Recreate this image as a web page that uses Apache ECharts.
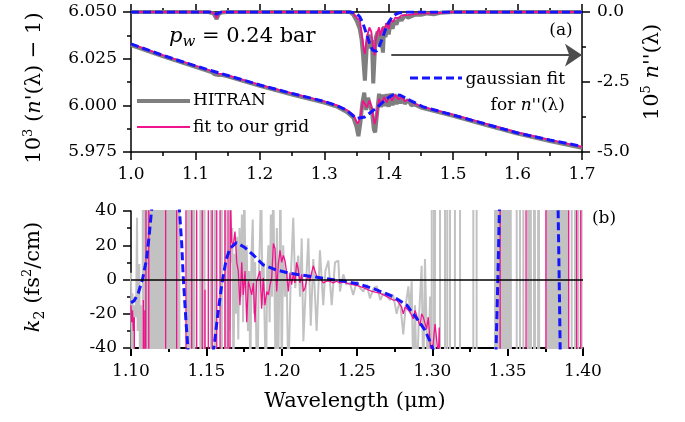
<!DOCTYPE html>
<html><head><meta charset="utf-8">
<script src="https://cdn.jsdelivr.net/npm/echarts@6/dist/echarts.min.js"></script>
<style>html,body{margin:0;padding:0;background:#fff}#c{width:685px;height:422px}</style>
</head><body><div id="c"></div>
<script>
// ---------- top panel: real part (left axis, 10^3 (n'-1)) ----------
const nRealHitran = [[1.000,6.0323],[1.050,6.0262],[1.100,6.0206],[1.125,6.0178],[1.130,6.0166],[1.133,6.0176],[1.136,6.0162],[1.140,6.0163],[1.150,6.0155],[1.200,6.0104],[1.250,6.0058],[1.300,6.0015],[1.320,5.9993],[1.335,5.9965],[1.345,5.9935],[1.350,5.9885],[1.353,5.9835],[1.356,5.9905],[1.359,6.0010],[1.362,6.0068],[1.365,5.9975],[1.368,6.0040],[1.371,6.0000],[1.374,5.9965],[1.377,5.9870],[1.379,5.9855],[1.382,5.9960],[1.385,6.0062],[1.388,5.9990],[1.391,6.0058],[1.394,5.9995],[1.397,6.0060],[1.400,5.9992],[1.403,6.0063],[1.406,6.0000],[1.409,6.0060],[1.412,6.0005],[1.415,6.0055],[1.418,6.0010],[1.421,6.0048],[1.425,6.0008],[1.430,6.0030],[1.435,6.0000],[1.440,6.0005],[1.450,5.9988],[1.500,5.9944],[1.550,5.9896],[1.600,5.9849],[1.650,5.9809],[1.700,5.9772]];
const nRealFit = [[1.000,6.0329],[1.050,6.0268],[1.100,6.0212],[1.125,6.0184],[1.130,6.0176],[1.133,6.0181],[1.136,6.0170],[1.140,6.0169],[1.150,6.0161],[1.200,6.0110],[1.250,6.0064],[1.300,6.0021],[1.320,6.0000],[1.335,5.9975],[1.345,5.9950],[1.352,5.9900],[1.356,5.9935],[1.360,6.0025],[1.363,6.0035],[1.366,5.9990],[1.370,6.0025],[1.374,5.9985],[1.378,5.9900],[1.381,5.9935],[1.385,6.0035],[1.389,6.0005],[1.393,6.0045],[1.397,6.0015],[1.401,6.0052],[1.405,6.0025],[1.410,6.0055],[1.415,6.0032],[1.420,6.0045],[1.425,6.0022],[1.430,6.0030],[1.440,6.0010],[1.450,5.9995],[1.500,5.9950],[1.550,5.9902],[1.600,5.9855],[1.650,5.9815],[1.700,5.9778]];
const nRealGauss = [[1.000,6.0329],[1.050,6.0267],[1.100,6.0211],[1.150,6.0160],[1.200,6.0109],[1.250,6.0063],[1.300,6.0021],[1.320,5.9998],[1.335,5.9973],[1.350,5.9929],[1.363,5.9938],[1.381,5.9986],[1.397,6.0036],[1.407,6.0057],[1.418,6.0054],[1.433,6.0027],[1.454,5.9991],[1.500,5.9948],[1.550,5.9900],[1.600,5.9852],[1.650,5.9814],[1.700,5.9780]];
// ---------- top panel: imaginary part (right axis, 10^5 n'') ----------
const nImagHitran = [[1.000,0],[1.120,0],[1.128,-0.05],[1.133,-0.25],[1.136,-0.08],[1.140,-0.02],[1.150,0],[1.340,0],[1.345,-0.1],[1.350,-0.3],[1.355,-0.6],[1.358,-1.0],[1.360,-1.5],[1.363,-2.45],[1.366,-1.2],[1.369,-0.8],[1.372,-1.3],[1.374,-1.0],[1.376,-2.55],[1.378,-1.6],[1.380,-0.9],[1.383,-0.7],[1.386,-1.2],[1.388,-0.7],[1.391,-1.45],[1.393,-0.5],[1.395,-0.9],[1.398,-0.4],[1.400,-0.8],[1.403,-0.35],[1.406,-0.6],[1.409,-0.3],[1.412,-0.45],[1.416,-0.2],[1.420,-0.3],[1.425,-0.12],[1.430,-0.2],[1.440,-0.1],[1.450,-0.1],[1.460,-0.05],[1.470,-0.08],[1.480,-0.03],[1.500,0],[1.700,0]];
const nImagFit = [[1.000,0],[1.125,0],[1.130,-0.08],[1.133,-0.22],[1.136,-0.05],[1.140,0],[1.340,0],[1.345,-0.05],[1.350,-0.2],[1.355,-0.3],[1.358,-0.75],[1.361,-1.3],[1.363,-1.5],[1.366,-0.9],[1.370,-0.55],[1.373,-0.7],[1.376,-1.35],[1.378,-1.55],[1.380,-1.0],[1.382,-0.75],[1.385,-0.55],[1.387,-0.85],[1.390,-0.55],[1.393,-0.75],[1.396,-0.4],[1.400,-0.6],[1.403,-0.3],[1.407,-0.35],[1.410,-0.2],[1.415,-0.22],[1.420,-0.12],[1.430,-0.1],[1.450,-0.05],[1.470,-0.05],[1.500,0],[1.700,0]];
const nImagGauss = [[1.000,0],[1.125,0],[1.133,-0.08],[1.140,0],[1.340,0],[1.345,-0.02],[1.350,-0.05],[1.355,-0.17],[1.360,-0.40],[1.365,-0.75],[1.370,-1.10],[1.375,-1.36],[1.378,-1.42],[1.381,-1.40],[1.385,-1.25],[1.390,-0.95],[1.395,-0.62],[1.400,-0.36],[1.405,-0.19],[1.410,-0.09],[1.415,-0.04],[1.420,-0.02],[1.430,0],[1.700,0]];
const arrowLevel = -1.54, arrowFrom = 1.404, arrowTo = 1.70;
// ---------- bottom panel: k2 (fs^2/cm) ----------
const k2HitranA = [[1.1000,4],[1.1005,-45],[1.1010,-8],[1.1015,-60],[1.1020,-15],[1.1030,-22],[1.1035,-10],[1.1040,36],[1.1044,-30],[1.1050,-5],[1.1055,9],[1.1060,-60],[1.1066,-15],[1.1072,-60],[1.1076,-400],
 [1.1080,-400],[1.1080,400],[1.1090,400],[1.1090,-400],[1.1100,-400],[1.1100,400],[1.1110,400],[1.1110,-400],[1.1120,-400],[1.1120,400],[1.1130,400],[1.1130,-400],[1.1140,-400],[1.1140,400],[1.1150,400],[1.1150,-400],[1.1160,-400],[1.1160,400],[1.1170,400],[1.1170,-400],[1.1180,-400],[1.1180,400],[1.1190,400],[1.1190,-400],[1.1200,-400],[1.1200,400],[1.1210,400],[1.1210,-400],[1.1220,-400],[1.1220,400],[1.1230,400],[1.1230,-400],[1.1240,-400],[1.1240,400],[1.1250,400],[1.1250,-400],[1.1260,-400],[1.1260,400],[1.1270,400],[1.1270,-400],[1.1280,-400],[1.1280,400],[1.1290,400],[1.1290,-400],[1.1300,-400],[1.1300,400],[1.1310,400],[1.1310,-400],[1.1318,-400],[1.1318,400],[1.1324,400],[1.1324,-400],
 [1.1376,-400],[1.1376,400],[1.1386,400],[1.1386,-400],[1.1396,-400],[1.1396,400],[1.1406,400],[1.1406,-400],[1.1416,-400],[1.1416,400],[1.1426,400],[1.1426,-400],
 [1.1460,-400],[1.1460,400],[1.1468,400],[1.1468,-400],[1.1485,-400],[1.1485,400],[1.1492,400],[1.1492,-400],[1.1530,-400],[1.1530,400],[1.1538,400],[1.1538,-400],[1.1555,-400],[1.1555,400],[1.1562,400],[1.1562,-400],[1.1600,-400],[1.1600,400],[1.1606,400],[1.1606,-400],[1.1625,-400],[1.1625,400],[1.1632,400],[1.1632,-400],[1.1640,-400]];
const k2HitranB = [[1.1646,0],[1.1652,-30],[1.1660,60],[1.1666,10],[1.1672,30],[1.1680,-60],[1.1688,15],[1.1696,-20],[1.1704,25],[1.1712,-35],[1.1720,30],[1.1728,-10],[1.1736,38],[1.1744,-25],[1.1752,60],[1.1760,-5],[1.1768,20],[1.1776,-30],[1.1784,5],[1.1792,-60],[1.1800,15],[1.1808,35],[1.1816,-20],[1.1824,10],[1.1832,-38],[1.1840,-60],[1.1848,0],[1.1856,25],[1.1864,60],[1.1872,-15],[1.1880,10],[1.1888,-30],[1.1896,-60],[1.1904,5],[1.1912,20],[1.1920,-25],[1.1928,38],[1.1936,-10],[1.1944,60],[1.1952,0],[1.1960,-60],[1.1968,30],[1.1976,-60],[1.1984,-5],[1.1992,60],[1.2000,-60],[1.2010,20],[1.2022,-10],[1.2033,5],[1.2044,-60],[1.2060,0],[1.2077,36],[1.2090,-5],[1.2110,14],[1.2122,-10],[1.2133,24],[1.2144,-36],[1.2160,-5],[1.2177,24],[1.2193,-27],[1.2210,12],[1.2232,-30],[1.2254,17],[1.2276,-15],[1.2290,5],[1.2310,11],[1.2332,-15],[1.2354,10],[1.2376,11],[1.2387,-7],[1.2409,3],[1.2430,-3],[1.2453,-2],[1.2475,-9],[1.2498,-1],[1.2520,-5],[1.2542,-7],[1.2565,-3],[1.2586,-11],[1.2610,-5],[1.2631,-4],[1.2655,-12],[1.2675,-8],[1.2700,-10],[1.2719,-12],[1.2740,-9],[1.2763,-20],[1.2785,-12],[1.2807,-32],[1.2825,-14],[1.2841,-4],[1.2852,-20],[1.2863,-1],[1.2874,-60],[1.2885,-15],[1.2896,-60],[1.2910,-25],[1.2929,8],[1.2940,-60],[1.2951,12],[1.2962,-30],[1.2973,-60],[1.2985,-10]];
const k2HitranC = [[1.2996,-400],[1.2996,400],[1.3011,400],[1.3011,-400],[1.3024,-400],[1.3024,400],[1.3051,400],[1.3051,-400],[1.3084,-400],[1.3084,400],[1.3099,400],[1.3099,-400],[1.3117,-400],[1.3117,400],[1.3150,400],[1.3150,-400],[1.3184,-400],[1.3184,400],[1.3272,400],[1.3272,-400],[1.3294,-400],[1.3294,400],[1.3416,400],[1.3416,-400],[1.3427,-400],[1.3427,400],[1.3438,400],[1.3438,-400],[1.3449,-400],[1.3449,400],[1.3460,400],[1.3460,-400],[1.3471,-400],[1.3471,400],[1.3482,400],[1.3482,-400],[1.3493,-400],[1.3493,400],[1.3504,400],[1.3504,-400],[1.3515,-400],[1.3515,400],[1.3527,400],[1.3527,-400],[1.3560,-400],[1.3560,400],[1.3582,400],[1.3582,-400],[1.3604,-400],[1.3604,400],[1.3635,400],[1.3635,-400],[1.3648,-400],[1.3648,400],[1.3661,400],[1.3661,-400],[1.3675,-400],[1.3675,400],[1.3688,400],[1.3688,-400],[1.3702,-400],[1.3702,400],[1.3715,400],[1.3715,-400],[1.3759,-400],[1.3759,400],[1.3770,400],[1.3770,-400],[1.3781,-400],[1.3781,400],[1.3792,400],[1.3792,-400],[1.3803,-400],[1.3803,400],[1.3814,400],[1.3814,-400],[1.3825,-400],[1.3825,400],[1.3836,400],[1.3836,-400],[1.3847,-400],[1.3847,400],[1.3858,400],[1.3858,-400],[1.3869,-400],[1.3869,400],[1.3880,400],[1.3880,-400],[1.3891,-400],[1.3891,400],[1.3903,400],[1.3903,-400],[1.3925,-400],[1.3925,400],[1.3947,400],[1.3947,-400],[1.3969,-400],[1.3969,400],[1.3991,400],[1.3991,-400],[1.4000,-400]];
const k2FitA = [[1.1000,-15],[1.1005,-25],[1.1010,-18],[1.1016,-30],[1.1022,-22],[1.1028,-400],[1.1078,-400],[1.1082,-12],[1.1086,-400],[1.1090,-400],[1.1092,-18],[1.1094,-400],[1.1104,-400],[1.1104,400],[1.1118,400],[1.1118,-400],[1.1230,-400],[1.1230,400],[1.1303,400],[1.1303,-400],[1.1365,-400],[1.1365,400],[1.1403,400],[1.1403,-400],[1.1436,-400],[1.1436,400],[1.1473,400],[1.1473,-400],[1.1488,-400],[1.1491,-6],[1.1494,-400],[1.1513,-400],[1.1513,400],[1.1539,400],[1.1539,-400],[1.1569,-400],[1.1569,400],[1.1591,400],[1.1591,-400],[1.1624,-400],[1.1624,400],[1.1644,400],[1.1644,-400],[1.1652,-400]];
const k2FitB = [[1.1660,45],[1.1668,22],[1.1679,20],[1.1690,28],[1.1702,10],[1.1712,5],[1.1723,-15],[1.1735,10],[1.1745,-9],[1.1757,5],[1.1768,-25],[1.1779,-1],[1.1790,-5],[1.1801,-9],[1.1812,-2],[1.1823,-25],[1.1834,-1],[1.1845,2],[1.1856,5],[1.1867,-17],[1.1878,1],[1.1889,-15],[1.1901,-7],[1.1912,-9],[1.1923,-3],[1.1934,1],[1.1945,21],[1.1956,18],[1.1967,-7],[1.1978,9],[1.1989,17],[1.2000,10],[1.2011,14],[1.2022,11],[1.2033,4],[1.2044,-7],[1.2055,4],[1.2066,-3],[1.2077,3],[1.2088,-2],[1.2099,10],[1.2110,6],[1.2121,-2],[1.2133,3],[1.2144,-7],[1.2155,-5],[1.2166,0],[1.2177,2],[1.2188,-1],[1.2199,4],[1.2210,8],[1.2221,7],[1.2232,2],[1.2243,1],[1.2254,1],[1.2265,0],[1.2276,-2],[1.2298,-1],[1.2320,-1],[1.2342,-2],[1.2364,-1],[1.2386,-2],[1.2409,-1.5],[1.2450,-2.5],[1.2500,-3.5],[1.2550,-5],[1.2600,-7],[1.2650,-8],[1.2700,-10],[1.2740,-12],[1.2763,-12],[1.2780,-14],[1.2796,-16],[1.2807,-20],[1.2820,-16],[1.2830,-17],[1.2852,-19],[1.2874,-23],[1.2885,-18],[1.2896,-21],[1.2918,-27],[1.2929,-20],[1.2940,-22],[1.2962,-29],[1.2973,-22],[1.2985,-23],[1.2996,-50],[1.3007,-36],[1.3018,-26],[1.3029,-25],[1.3040,-45],[1.3046,-28],[1.3055,-400]];
const k2FitC = [[1.3450,-400],[1.3450,400],[1.3622,400],[1.3622,-400],[1.3754,-400],[1.3754,400],[1.3905,400],[1.3905,-400],[1.3958,-400],[1.3958,400],[1.3985,400],[1.3985,-400],[1.4000,-400]];
const k2Gauss = [[1.1000,-13.5],[1.1020,-12.5],[1.1048,-8],[1.1078,0.7],[1.1104,12.4],[1.1121,26],[1.1137,41],[1.1160,80],[1.1200,150],[1.1250,140],[1.1300,70],[1.1321,41],[1.1336,22],[1.1347,1],[1.1365,-24.6],[1.1376,-38],[1.1400,-80],[1.1450,-150],[1.1500,-110],[1.1540,-45],[1.1553,-38],[1.1573,-22.7],[1.1602,-3.2],[1.1631,11.4],[1.1657,18.2],[1.1700,21.5],[1.1750,19],[1.1812,14.3],[1.1878,8.5],[1.1950,6],[1.2055,3.6],[1.2166,2.2],[1.2276,0.7],[1.2409,-0.9],[1.2520,-2.8],[1.2631,-6.1],[1.2741,-10],[1.2830,-14.9],[1.2896,-22.7],[1.2951,-29.5],[1.2985,-36.3],[1.3010,-42],[1.3100,-70],[1.3250,-130],[1.3380,-90],[1.3420,-50],[1.3435,0],[1.3450,60],[1.3550,200],[1.3700,150],[1.3800,80],[1.3835,40],[1.3842,0],[1.3850,-50],[1.3900,-150],[1.4000,-100]];

const FONT = '"DejaVu Serif"';
const GRAY_TOP = '#7f7f7f', GRAY_BOT = '#c2c2c2', PINK = '#f0148c', BLUE = '#1515ff';

function xAx(grid, min, max, iv, pos, dec, showLabel, lw, margin) {
  return {gridIndex: grid, type: 'value', min: min, max: max, interval: iv, position: pos,
    axisLine: {show: true, onZero: false, lineStyle: {color: '#000', width: lw}},
    axisTick: {show: true, inside: false, length: 8, lineStyle: {color: '#000', width: lw}},
    minorTick: {show: true, splitNumber: 2, length: 4, lineStyle: {color: '#000', width: lw}},
    splitLine: {show: false}, minorSplitLine: {show: false},
    axisLabel: {show: showLabel, margin: margin, fontSize: 17, color: '#000', fontFamily: FONT,
      formatter: v => v.toFixed(dec)}};
}
function yAx(grid, min, max, iv, pos, dec, lw, margin) {
  return {gridIndex: grid, type: 'value', min: min, max: max, interval: iv, position: pos,
    axisLine: {show: true, onZero: false, lineStyle: {color: '#000', width: lw}},
    axisTick: {show: true, inside: false, length: 8, lineStyle: {color: '#000', width: lw}},
    minorTick: {show: true, splitNumber: 2, length: 4, lineStyle: {color: '#000', width: lw}},
    splitLine: {show: false}, minorSplitLine: {show: false},
    axisLabel: {margin: margin, fontSize: 17, color: '#000', fontFamily: FONT,
      formatter: v => v.toFixed(dec)}};
}
function ser(data, xi, yi, color, width, dash, z, extra) {
  return Object.assign({type: 'line', xAxisIndex: xi, yAxisIndex: yi, data: data,
    symbol: 'none', showSymbol: false, silent: true, clip: true, z: z,
    lineStyle: {color: color, width: width, type: dash || 'solid'}}, extra || {});
}

const rich = {
  n: {fontFamily: 'DejaVu Serif', fontSize: 21, fill: '#000', lineHeight: 26, verticalAlign: 'middle'},
  i: {fontFamily: 'DejaVu Serif', fontStyle: 'italic', fontSize: 21, fill: '#000', lineHeight: 26, verticalAlign: 'middle'},
  sup: {fontFamily: 'DejaVu Serif', fontSize: 13, fill: '#000', lineHeight: 26, verticalAlign: 'top'},
  sub: {fontFamily: 'DejaVu Serif', fontSize: 14, fill: '#000', lineHeight: 26, verticalAlign: 'bottom'},
  subi: {fontFamily: 'DejaVu Serif', fontStyle: 'italic', fontSize: 15, fill: '#000', lineHeight: 26, verticalAlign: 'bottom'},
  s: {fontFamily: 'DejaVu Serif', fontSize: 17, fill: '#000', lineHeight: 22, verticalAlign: 'middle'},
  si: {fontFamily: 'DejaVu Serif', fontStyle: 'italic', fontSize: 17, fill: '#000', lineHeight: 22, verticalAlign: 'middle'}
};
function txt(x, y, text, align, rot, extra) {
  return Object.assign({type: 'text', x: x, y: y, rotation: rot || 0, silent: true,
    style: {text: text, rich: rich, align: align || 'left', verticalAlign: 'middle', fill: '#000'}}, extra || {});
}

const chart = echarts.init(document.getElementById('c'), null, {renderer: 'canvas'});
chart.setOption({
  animation: false,
  backgroundColor: '#fff',
  textStyle: {fontFamily: FONT},
  grid: [{left: 131, top: 12, width: 451, height: 140}, {left: 131, top: 211, width: 452, height: 137}],
  xAxis: [
    xAx(0, 1.0, 1.7, 0.1, 'bottom', 1, true, 1.5, 14),
    xAx(0, 1.0, 1.7, 0.1, 'top', 1, false, 1.5, 14),
    xAx(1, 1.10, 1.40, 0.05, 'bottom', 2, true, 2, 15)
  ],
  yAxis: [
    yAx(0, 5.975, 6.050, 0.025, 'left', 3, 1.5, 14),
    yAx(0, -5, 0, 2.5, 'right', 1, 1.5, 15),
    yAx(1, -40, 40, 20, 'left', 0, 1.5, 14)
  ],
  series: [
    ser(nRealHitran, 0, 0, GRAY_TOP, 4, null, 2),
    ser(nImagHitran, 0, 1, GRAY_TOP, 4, null, 2, {
      markLine: {silent: true, symbol: ['none', 'arrow'], symbolSize: 17, animation: false,
        label: {show: false}, lineStyle: {color: '#4d4d4d', width: 2, type: 'solid'},
        itemStyle: {color: '#4d4d4d'},
        data: [[{coord: [arrowFrom, arrowLevel]}, {coord: [arrowTo, arrowLevel]}]]}}),
    ser(nRealFit, 0, 0, PINK, 1.8, null, 3),
    ser(nImagFit, 0, 1, PINK, 1.8, null, 3),
    ser(nRealGauss, 0, 0, BLUE, 3, [8, 4], 4),
    ser(nImagGauss, 0, 1, BLUE, 3, [8, 4], 4),
    ser(k2HitranA.concat(k2HitranB, k2HitranC), 2, 2, GRAY_BOT, 2, null, 2),
    ser(k2FitA.concat(k2FitB, k2FitC), 2, 2, PINK, 1.3, null, 3, {
      markLine: {silent: true, symbol: 'none', animation: false, label: {show: false},
        lineStyle: {color: '#000', width: 1.5, type: 'solid'}, data: [{yAxis: 0}]}}),
    ser(k2Gauss, 2, 2, BLUE, 3, [8, 4], 4)
  ],
  graphic: [
    {type: 'line', silent: true, shape: {x1: 137, y1: 101, x2: 190, y2: 101}, style: {stroke: GRAY_TOP, lineWidth: 4}},
    txt(193, 101, '{s|HITRAN}'),
    {type: 'line', silent: true, shape: {x1: 137, y1: 127, x2: 190, y2: 127}, style: {stroke: PINK, lineWidth: 2}},
    txt(193, 128, '{s|fit to our grid}'),
    {type: 'line', silent: true, shape: {x1: 410, y1: 78, x2: 462, y2: 78}, style: {stroke: BLUE, lineWidth: 3, lineDash: [8, 4]}},
    txt(565, 80, '{s|gaussian fit}', 'right'),
    txt(565, 106, '{s|for }{si|n}{s|\'\'(λ)}', 'right'),
    txt(169, 37, '{i|p}{subi|w}{n| = 0.24 bar}'),
    txt(561, 31, '{s|(a)}', 'center'),
    txt(604, 219, '{s|(b)}', 'center'),
    txt(35, 88, '{n|10}{sup|3}{n| (}{i|n}{n|\'(λ) − 1)}', 'center', Math.PI / 2),
    txt(653, 72, '{n|10}{sup|5}{n| }{i|n}{n|\'\'(λ)}', 'center', Math.PI / 2),
    txt(34, 277, '{i|k}{sub|2}{n| (fs}{sup|2}{n|/cm)}', 'center', Math.PI / 2),
    txt(355, 402, '{n|Wavelength (μm)}', 'center')
  ]
});
</script></body></html>
